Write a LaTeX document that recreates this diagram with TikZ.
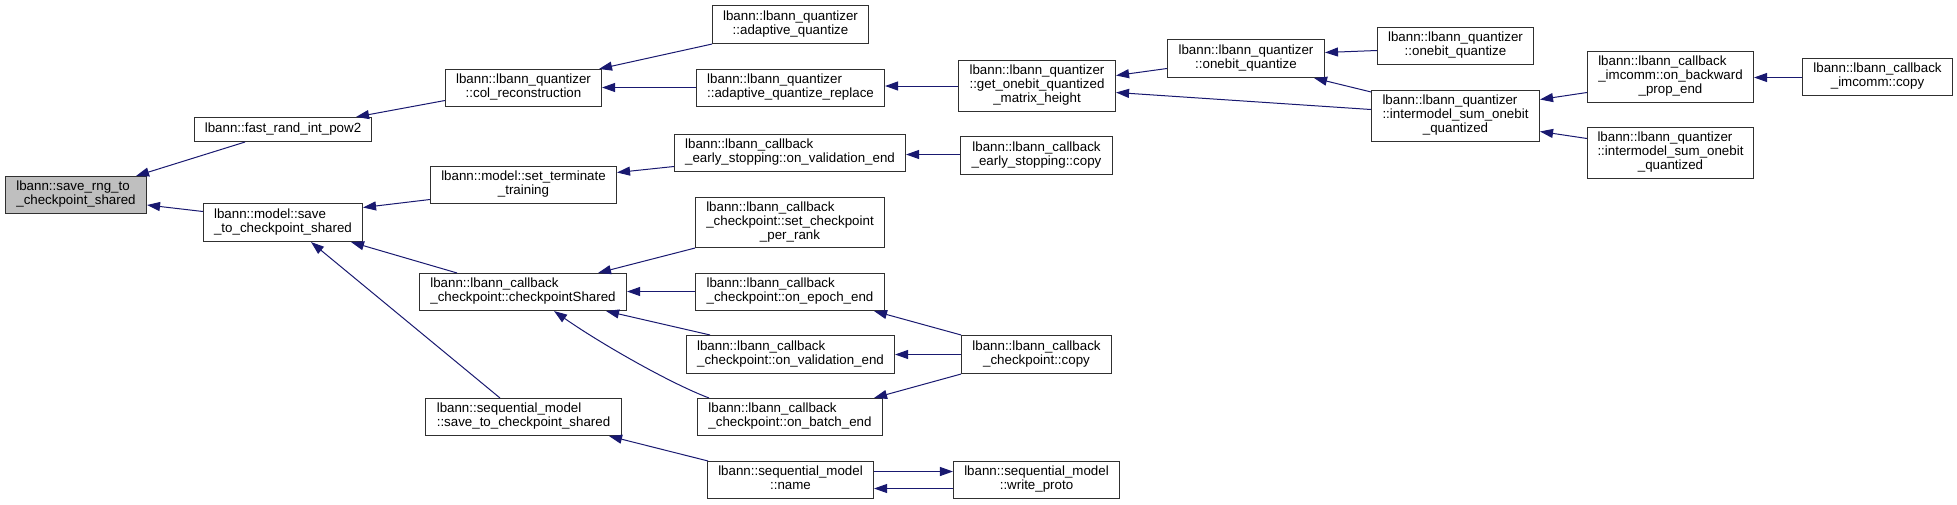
\documentclass[tikz,border=0pt]{standalone}
\usepackage{fontspec}
\setmainfont{Liberation Sans}
\usetikzlibrary{arrows.meta,calc}
\definecolor{bordercol}{HTML}{303030}
\definecolor{edgecol}{HTML}{191970}
\definecolor{rootfill}{HTML}{BFBFBF}
\newcommand\LL[2]{\begin{tabular}{@{}l@{}}#1\\\multicolumn{1}{@{}c@{}}{#2}\end{tabular}}
\newcommand\CC[1]{\begin{tabular}{@{}c@{}}#1\end{tabular}}
\tikzset{
  box/.style={draw=bordercol, fill=white, line width=1.1pt, inner sep=0pt,
    font=\fontsize{13.33}{14}\selectfont},
  rootbox/.style={box, fill=rootfill},
  e/.style={draw=edgecol, line width=1pt, -{Triangle[length=13pt,width=9pt]}}
}
\begin{document}
\begin{tikzpicture}[x=1pt,y=-1pt]
\useasboundingbox (-0.5,-0.5) rectangle (1956.5,503.5);
% nodes
\node[rootbox, minimum width=141pt, minimum height=37pt] (rng) at (75.5,194.5) {\LL{lbann::save\_rng\_to}{\_checkpoint\_shared}};
\node[box, minimum width=177pt, minimum height=24pt] (fast) at (282.5,129) {lbann::fast\_rand\_int\_pow2};
\node[box, minimum width=159pt, minimum height=38pt] (msave) at (282.5,222) {\LL{lbann::model::save}{\_to\_checkpoint\_shared}};
\node[box, minimum width=156pt, minimum height=37pt] (colr) at (523,87.5) {\CC{lbann::lbann\_quantizer\\::col\_reconstruction}};
\node[box, minimum width=156pt, minimum height=38pt] (adq) at (790,24) {\CC{lbann::lbann\_quantizer\\::adaptive\_quantize}};
\node[box, minimum width=188pt, minimum height=37pt] (adqr) at (790,87.5) {\LL{lbann::lbann\_quantizer}{::adaptive\_quantize\_replace}};
\node[box, minimum width=157pt, minimum height=51pt] (getob) at (1036.5,85.5) {\CC{lbann::lbann\_quantizer\\::get\_onebit\_quantized\\\_matrix\_height}};
\node[box, minimum width=157pt, minimum height=38pt] (obq1) at (1245.5,58) {\CC{lbann::lbann\_quantizer\\::onebit\_quantize}};
\node[box, minimum width=156pt, minimum height=37pt] (obq2) at (1455,45.5) {\CC{lbann::lbann\_quantizer\\::onebit\_quantize}};
\node[box, minimum width=168pt, minimum height=51pt] (ims1) at (1455,115.5) {\LL{lbann::lbann\_quantizer\\::intermodel\_sum\_onebit}{\_quantized}};
\node[box, minimum width=166pt, minimum height=51pt] (obpe) at (1670,76.5) {\LL{lbann::lbann\_callback\\\_imcomm::on\_backward}{\_prop\_end}};
\node[box, minimum width=166pt, minimum height=51pt] (ims2) at (1670,152.5) {\LL{lbann::lbann\_quantizer\\::intermodel\_sum\_onebit}{\_quantized}};
\node[box, minimum width=150pt, minimum height=37pt] (imcp) at (1877,76.5) {\CC{lbann::lbann\_callback\\\_imcomm::copy}};
\node[box, minimum width=186pt, minimum height=37pt] (sett) at (523,184.5) {\CC{lbann::model::set\_terminate\\\_training}};
\node[box, minimum width=231pt, minimum height=37pt] (esve) at (789.5,152.5) {\LL{lbann::lbann\_callback}{\_early\_stopping::on\_validation\_end}};
\node[box, minimum width=152pt, minimum height=38pt] (escp) at (1036,155) {\CC{lbann::lbann\_callback\\\_early\_stopping::copy}};
\node[box, minimum width=207pt, minimum height=37pt] (cps) at (522.5,291.5) {\LL{lbann::lbann\_callback}{\_checkpoint::checkpointShared}};
\node[box, minimum width=189pt, minimum height=50pt] (scpr) at (789.5,222) {\LL{lbann::lbann\_callback\\\_checkpoint::set\_checkpoint}{\_per\_rank}};
\node[box, minimum width=189pt, minimum height=37pt] (oee) at (789.5,291.5) {\LL{lbann::lbann\_callback}{\_checkpoint::on\_epoch\_end}};
\node[box, minimum width=208pt, minimum height=38pt] (ove) at (790,354) {\LL{lbann::lbann\_callback}{\_checkpoint::on\_validation\_end}};
\node[box, minimum width=185pt, minimum height=37pt] (obe) at (789.5,416.5) {\LL{lbann::lbann\_callback}{\_checkpoint::on\_batch\_end}};
\node[box, minimum width=150pt, minimum height=38pt] (ccp) at (1036,354) {\CC{lbann::lbann\_callback\\\_checkpoint::copy}};
\node[box, minimum width=196pt, minimum height=37pt] (ssave) at (523,416.5) {\LL{lbann::sequential\_model}{::save\_to\_checkpoint\_shared}};
\node[box, minimum width=166pt, minimum height=37pt] (name) at (790,479.5) {\CC{lbann::sequential\_model\\::name}};
\node[box, minimum width=166pt, minimum height=37pt] (wp) at (1036,479.5) {\CC{lbann::sequential\_model\\::write\_proto}};
% edges
\draw[e] ($(fast.south west)+(51,0)$) -- ($(rng.north east)+(-11,0)$);
\draw[e] ($(msave.west)+(0,-11)$) -- ($(rng.east)+(0,10)$);
\draw[e] ($(colr.west)+(0,12.5)$) -- ($(fast.north east)+(-16,0)$);
\draw[e] (adq.south west) -- ($(colr.north east)+(-3,0)$);
\draw[e] ($(adqr.west)+(0,-0.5)$) -- ($(colr.east)+(0,-0.5)$);
\draw[e] (getob.west) -- (getob.west -| adqr.east);
\draw[e] ($(obq1.west)+(0,10)$) -- ($(getob.east)+(0,-10.5)$);
\draw[e] ($(ims1.west)+(0,-6.5)$) -- ($(getob.east)+(0,6.5)$);
\draw[e] ($(obq2.west)+(0,4.5)$) -- ($(obq1.east)+(0,-6)$);
\draw[e] ($(ims1.north west)+(0,2)$) -- ($(obq1.south east)+(-11,0)$);
\draw[e] ($(obpe.west)+(0,15.5)$) -- ($(ims1.east)+(0,-16.5)$);
\draw[e] ($(ims2.west)+(0,-14.5)$) -- ($(ims1.east)+(0,15.5)$);
\draw[e] ($(imcp.west)+(0,0.5)$) -- ($(obpe.east)+(0,0.5)$);
\draw[e] ($(sett.west)+(0,14.5)$) -- ($(msave.east)+(0,-15)$);
\draw[e] ($(cps.north west)+(38,0)$) -- ($(msave.south east)+(-12,0)$);
\draw[e] ($(ssave.north west)+(75,0)$) -- ($(msave.south east)+(-52,0)$);
\draw[e] ($(esve.west)+(0,13.5)$) -- ($(sett.east)+(0,-12.5)$);
\draw[e] ($(escp.west)+(0,-1)$) -- ($(escp.west -| esve.east)+(0,-1)$);
\draw[e] (scpr.south west) -- ($(cps.north east)+(-29,0)$);
\draw[e] ($(oee.west)+(0,-0.5)$) -- ($(cps.east)+(0,-0.5)$);
\draw[e] ($(ove.north west)+(24,0)$) -- ($(cps.south east)+(-21,0)$);
\draw[e] ($(obe.north west)+(12,0)$) .. controls (670,383) and (600,343) .. ($(cps.south east)+(-73,0)$);
\draw[e] (ccp.north west) -- ($(oee.south east)+(-11,0)$);
\draw[e] (ccp.west) -- (ove.east);
\draw[e] (ccp.south west) -- ($(obe.north east)+(-9,0)$);
\draw[e] ($(name.north west)+(1,0)$) -- ($(ssave.south east)+(-13,0)$);
\draw[e] ($(name.east)+(0,-8.5)$) -- ($(wp.west)+(0,-8.5)$);
\draw[e] ($(wp.west)+(0,8.5)$) -- ($(name.east)+(0,8.5)$);
\end{tikzpicture}
\end{document}
